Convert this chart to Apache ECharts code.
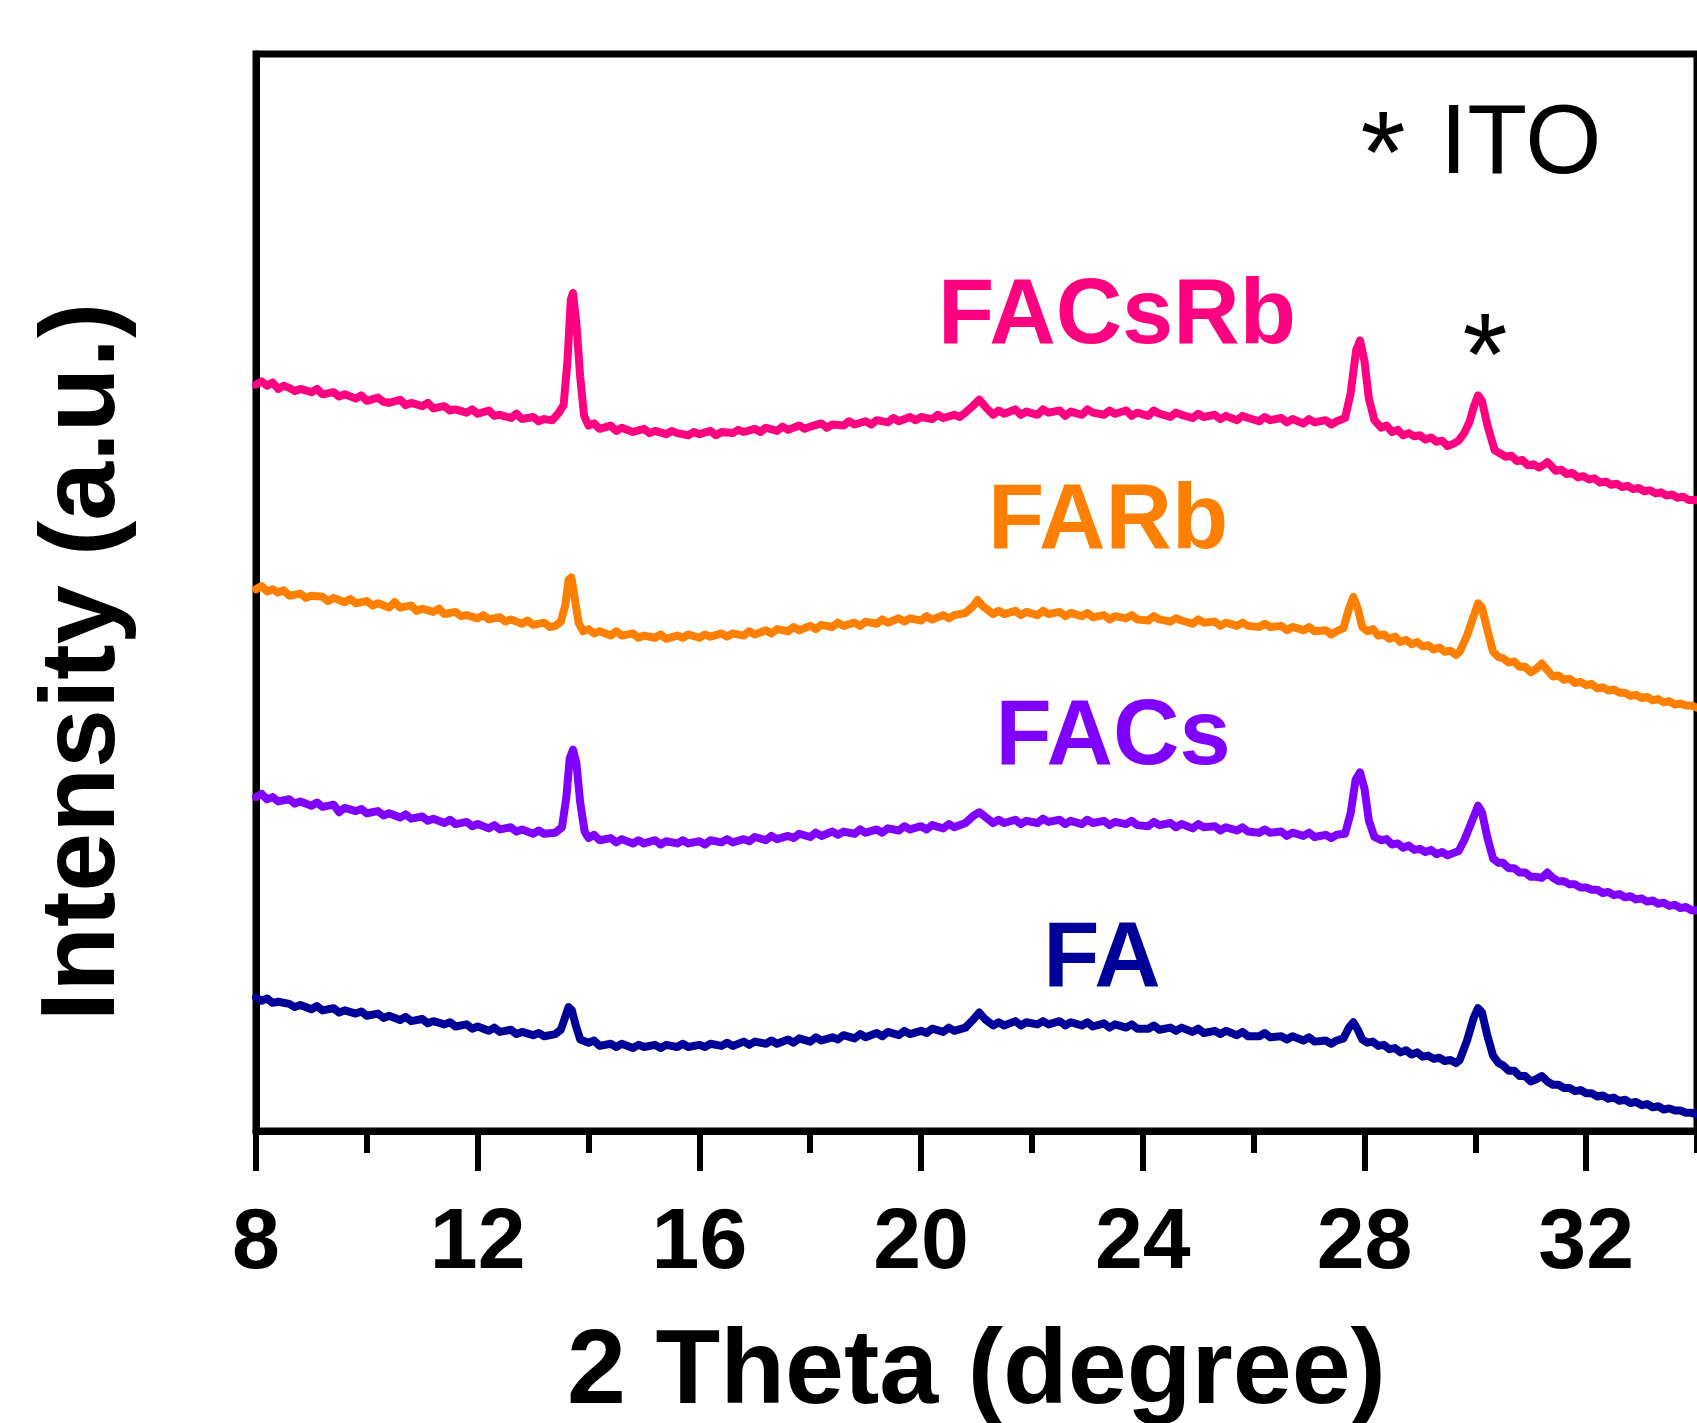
<!DOCTYPE html>
<html>
<head>
<meta charset="utf-8">
<script src="https://cdn.jsdelivr.net/npm/echarts@6/dist/echarts.min.js"></script>
<style>html,body{margin:0;padding:0;background:#fff;}#c{width:1697px;height:1423px;}</style>
</head>
<body>
<div id="c"></div>
<script>
// 2 Theta (degree) vs intensity (a.u., offset traces)
const seriesNames = ['FACsRb', 'FARb', 'FACs', 'FA'];
const seriesColors = ['#FF0080', '#FF8000', '#8000FF', '#000099'];
const xTickLabels = ['8', '12', '16', '20', '24', '28', '32'];

const FACsRb = [
[8.0,69.3],[8.1,69.6],[8.2,69.2],[8.3,69.5],[8.4,68.9],[8.5,69.2],[8.6,69.0],[8.7,68.7],[8.8,68.9],[9.0,68.6],[9.1,68.9],[9.2,68.4],[9.4,68.6],[9.5,68.2],[9.6,68.4],[9.8,68.0],[9.9,68.3],
[10.0,67.8],[10.2,68.1],[10.3,67.7],[10.4,67.6],[10.6,67.9],[10.7,67.4],[10.8,67.6],[11.0,67.3],[11.1,67.6],[11.2,67.1],[11.4,67.3],[11.5,66.9],[11.6,67.0],[11.8,66.7],[11.9,67.0],
[12.0,66.6],[12.2,66.9],[12.3,66.4],[12.4,66.5],[12.6,66.2],[12.7,66.6],[12.8,66.1],[13.0,66.3],[13.1,65.9],[13.2,66.1],[13.35,66.0],[13.45,66.6],[13.55,67.4],[13.62,71.5],[13.68,77.2],[13.72,77.8],[13.78,75.0],[13.85,70.0],[13.92,66.4],
[14.0,65.5],[14.1,65.7],[14.2,65.2],[14.4,65.5],[14.5,65.0],[14.6,65.3],[14.8,64.9],[15.0,65.2],[15.1,64.8],[15.2,65.0],[15.4,64.7],[15.5,65.0],[15.6,64.8],[15.8,64.6],[15.9,64.9],
[16.0,64.7],[16.2,65.0],[16.3,64.6],[16.4,64.9],[16.6,64.8],[16.7,65.1],[16.8,64.9],[17.0,65.2],[17.1,64.9],[17.2,65.3],[17.4,65.0],[17.5,65.4],[17.6,65.1],[17.8,65.5],[17.9,65.2],
[18.0,65.4],[18.2,65.7],[18.3,65.3],[18.4,65.6],[18.6,65.5],[18.7,65.9],[18.8,65.6],[19.0,65.9],[19.1,65.6],[19.2,66.0],[19.4,65.8],[19.5,66.2],[19.6,65.9],[19.8,66.3],[19.9,66.0],
[20.0,66.3],[20.2,66.1],[20.3,66.5],[20.4,66.2],[20.6,66.5],[20.7,66.3],[20.8,66.7],[20.95,67.4],[21.05,67.9],[21.15,67.3],[21.3,66.5],[21.4,66.9],[21.5,66.6],[21.7,67.0],[21.8,66.5],[21.9,66.8],
[22.1,66.5],[22.2,67.0],[22.3,66.7],[22.5,66.9],[22.6,66.4],[22.7,66.8],[22.9,66.5],[23.0,67.0],[23.1,66.7],[23.3,66.5],[23.4,66.9],[23.5,66.6],[23.7,66.9],[23.8,66.4],[23.9,66.7],
[24.1,66.4],[24.2,66.9],[24.3,66.6],[24.5,66.3],[24.6,66.7],[24.7,66.5],[24.9,66.2],[25.0,66.6],[25.1,66.3],[25.3,66.5],[25.4,66.1],[25.5,66.4],[25.7,66.0],[25.8,66.4],[25.9,66.2],
[26.1,65.9],[26.2,66.3],[26.3,66.0],[26.5,66.2],[26.6,65.8],[26.7,66.1],[26.9,65.7],[27.0,66.1],[27.1,65.8],[27.3,66.0],[27.4,65.6],[27.5,65.9],[27.65,66.2],[27.75,68.5],[27.85,72.5],[27.92,73.4],[28.0,71.5],[28.08,68.0],[28.18,66.0],
[28.3,65.3],[28.4,65.5],[28.5,64.9],[28.6,65.1],[28.7,64.6],[28.8,64.8],[28.9,64.5],[29.0,64.6],[29.1,64.2],[29.2,64.4],[29.3,64.0],[29.4,64.1],[29.5,63.6],[29.6,63.8],[29.7,64.1],[29.8,64.8],[29.9,65.9],[29.97,67.2],[30.05,68.3],[30.12,67.8],[30.22,65.5],[30.35,63.2],
[30.45,62.9],[30.55,62.6],[30.65,62.7],[30.75,62.2],[30.85,62.3],[30.95,61.8],[31.05,61.9],[31.15,61.6],[31.25,61.9],[31.3,62.1],[31.38,61.7],[31.45,61.3],[31.55,61.4],[31.65,61.0],[31.75,61.1],[31.85,60.7],[31.95,60.8],
[32.05,60.5],[32.15,60.6],[32.25,60.2],[32.35,60.3],[32.45,60.0],[32.55,60.1],[32.65,59.8],[32.75,59.9],[32.85,59.6],[32.95,59.7],[33.05,59.4],[33.15,59.5],[33.25,59.2],[33.35,59.3],[33.45,59.0],[33.55,59.1],[33.65,58.8],[33.75,58.9],[33.85,58.6],[34.0,58.6]
];

const FARb = [
[8.0,50.3],[8.1,50.6],[8.2,50.1],[8.3,50.3],[8.4,50.0],[8.5,50.2],[8.6,49.7],[8.8,49.9],[8.9,49.5],[9.0,49.7],[9.2,49.6],[9.3,49.2],[9.4,49.5],[9.6,49.1],[9.7,49.4],[9.8,49.0],
[10.0,49.2],[10.1,48.8],[10.2,49.0],[10.4,48.6],[10.5,49.1],[10.6,48.6],[10.8,48.8],[10.9,48.3],[11.0,48.5],[11.2,48.2],[11.3,48.5],[11.4,48.0],[11.6,48.2],[11.7,47.8],[11.8,47.9],
[12.0,47.6],[12.1,47.9],[12.2,47.5],[12.4,47.7],[12.5,47.3],[12.6,47.5],[12.8,47.1],[12.9,47.4],[13.0,47.0],[13.2,47.2],[13.3,46.8],[13.4,46.9],[13.5,47.3],[13.58,48.8],[13.64,51.2],[13.69,51.4],[13.75,49.5],[13.82,47.2],[13.9,46.4],
[14.0,46.6],[14.1,46.2],[14.2,46.4],[14.4,46.0],[14.5,46.4],[14.6,46.0],[14.8,46.2],[14.9,45.8],[15.0,46.0],[15.2,45.8],[15.3,46.1],[15.4,45.7],[15.6,46.0],[15.7,45.8],[15.8,46.1],
[16.0,45.8],[16.1,46.1],[16.2,45.9],[16.4,46.2],[16.5,45.9],[16.6,46.2],[16.8,46.0],[16.9,46.4],[17.0,46.1],[17.2,46.5],[17.3,46.2],[17.4,46.6],[17.6,46.4],[17.7,46.8],[17.8,46.5],
[18.0,46.9],[18.1,46.6],[18.2,47.0],[18.4,46.8],[18.5,47.2],[18.6,46.9],[18.8,47.2],[18.9,46.9],[19.0,47.3],[19.2,47.1],[19.3,47.5],[19.4,47.2],[19.6,47.6],[19.7,47.3],[19.8,47.6],
[20.0,47.4],[20.1,47.8],[20.2,47.5],[20.4,47.9],[20.5,47.6],[20.6,47.9],[20.8,48.1],[20.95,48.8],[21.02,49.3],[21.12,48.7],[21.3,48.0],[21.4,48.3],[21.5,48.0],[21.7,48.3],[21.8,47.9],[21.9,48.2],
[22.1,47.9],[22.2,48.3],[22.3,48.0],[22.5,48.2],[22.6,47.8],[22.7,48.1],[22.9,47.8],[23.0,48.1],[23.1,47.7],[23.3,47.9],[23.4,47.5],[23.5,47.8],[23.7,47.6],[23.8,47.9],[23.9,47.5],
[24.1,47.4],[24.2,47.8],[24.3,47.5],[24.5,47.3],[24.6,47.6],[24.7,47.4],[24.9,47.1],[25.0,47.5],[25.1,47.2],[25.3,47.3],[25.4,46.9],[25.5,47.2],[25.7,46.9],[25.8,47.2],[25.9,46.9],
[26.1,46.8],[26.2,47.1],[26.3,46.8],[26.5,46.9],[26.6,46.5],[26.7,46.8],[26.9,46.5],[27.0,46.8],[27.1,46.4],[27.3,46.5],[27.4,46.1],[27.5,46.4],[27.62,46.7],[27.72,48.5],[27.8,49.6],[27.88,48.5],[27.96,46.8],
[28.05,46.4],[28.15,46.6],[28.25,46.0],[28.35,46.1],[28.45,45.7],[28.55,45.9],[28.65,45.4],[28.75,45.6],[28.85,45.2],[28.95,45.4],[29.05,45.0],[29.15,45.1],[29.25,44.7],[29.35,44.9],[29.45,44.5],[29.55,44.6],[29.65,44.2],[29.72,44.5],
[29.85,46.0],[29.97,47.8],[30.05,49.0],[30.12,48.6],[30.22,46.5],[30.32,44.5],[30.42,44.0],[30.5,43.9],[30.6,43.5],[30.7,43.6],[30.8,43.1],[30.9,43.1],[31.0,42.6],[31.1,42.9],[31.2,43.4],[31.3,42.8],
[31.4,42.2],[31.5,42.3],[31.6,41.9],[31.7,42.0],[31.8,41.6],[31.9,41.7],[32.0,41.4],[32.1,41.5],[32.2,41.1],[32.3,41.2],[32.4,40.9],[32.5,41.0],[32.6,40.7],[32.7,40.7],[32.8,40.4],[32.9,40.5],
[33.0,40.2],[33.1,40.3],[33.2,40.0],[33.3,40.1],[33.4,39.8],[33.5,39.9],[33.6,39.6],[33.7,39.7],[33.8,39.5],[33.9,39.5],[34.0,39.3]
];

const FACs = [
[8.0,31.0],[8.1,31.3],[8.2,30.8],[8.3,31.0],[8.4,30.6],[8.6,30.8],[8.7,30.4],[8.8,30.6],[9.0,30.2],[9.1,30.5],[9.2,30.1],[9.4,30.3],[9.5,29.6],[9.6,30.0],[9.8,29.7],[9.9,29.9],
[10.0,29.5],[10.2,29.7],[10.3,29.3],[10.4,29.5],[10.6,29.1],[10.7,29.4],[10.8,29.0],[11.0,29.2],[11.1,28.8],[11.2,29.0],[11.4,28.6],[11.5,28.9],[11.6,28.5],[11.8,28.7],[11.9,28.3],
[12.0,28.5],[12.2,28.1],[12.3,28.4],[12.4,28.0],[12.6,28.2],[12.7,27.8],[12.8,28.0],[13.0,27.6],[13.1,27.9],[13.2,27.6],[13.4,27.7],[13.52,28.2],[13.6,31.0],[13.66,34.6],[13.72,35.4],[13.78,34.2],[13.85,30.5],[13.93,27.8],
[14.0,27.2],[14.1,27.5],[14.2,27.0],[14.4,27.2],[14.5,26.8],[14.6,27.1],[14.8,26.7],[14.9,27.0],[15.0,26.7],[15.2,27.0],[15.3,26.6],[15.4,26.9],[15.6,26.7],[15.7,27.0],[15.8,26.7],
[16.0,26.9],[16.1,26.6],[16.2,27.0],[16.4,26.8],[16.5,27.1],[16.6,26.8],[16.8,27.1],[16.9,26.9],[17.0,27.3],[17.2,27.0],[17.3,27.4],[17.4,27.1],[17.6,27.4],[17.7,27.2],[17.8,27.6],
[18.0,27.3],[18.1,27.7],[18.2,27.4],[18.4,27.8],[18.5,27.5],[18.6,27.8],[18.8,27.6],[18.9,28.0],[19.0,27.7],[19.2,28.0],[19.3,27.7],[19.4,28.1],[19.6,27.9],[19.7,28.3],[19.8,28.0],
[20.0,28.3],[20.1,28.0],[20.2,28.4],[20.4,28.1],[20.5,28.5],[20.6,28.2],[20.8,28.6],[20.95,29.3],[21.05,29.6],[21.15,29.2],[21.3,28.6],[21.4,28.9],[21.5,28.6],[21.7,28.9],[21.8,28.5],[21.9,28.8],
[22.1,28.6],[22.2,29.0],[22.3,28.7],[22.5,28.9],[22.6,28.5],[22.7,28.8],[22.9,28.5],[23.0,28.9],[23.1,28.6],[23.3,28.8],[23.4,28.4],[23.5,28.7],[23.7,28.5],[23.8,28.8],[23.9,28.4],
[24.1,28.3],[24.2,28.7],[24.3,28.4],[24.5,28.6],[24.6,28.2],[24.7,28.5],[24.9,28.1],[25.0,28.5],[25.1,28.2],[25.3,28.3],[25.4,27.9],[25.5,28.2],[25.7,27.9],[25.8,28.2],[25.9,27.8],
[26.1,27.7],[26.2,28.0],[26.3,27.7],[26.5,27.8],[26.6,27.4],[26.7,27.7],[26.9,27.4],[27.0,27.7],[27.1,27.3],[27.3,27.5],[27.4,27.2],[27.5,27.5],[27.65,27.6],[27.75,29.5],[27.84,32.6],[27.92,33.3],[28.0,31.8],[28.08,28.8],[28.18,27.3],
[28.3,27.0],[28.4,27.1],[28.5,26.6],[28.6,26.7],[28.7,26.3],[28.8,26.5],[28.9,26.1],[29.0,26.2],[29.1,25.9],[29.2,26.1],[29.3,25.7],[29.4,25.9],[29.5,25.6],[29.6,25.8],[29.7,26.0],
[29.8,27.0],[29.95,28.9],[30.05,30.2],[30.12,29.6],[30.22,27.2],[30.32,25.3],[30.42,24.9],[30.5,24.9],[30.6,24.4],[30.7,24.4],[30.8,24.0],[30.9,24.0],[31.0,23.6],[31.1,23.6],[31.2,23.5],[31.3,24.0],
[31.4,23.5],[31.5,23.2],[31.6,23.2],[31.7,22.9],[31.8,22.9],[31.9,22.6],[32.0,22.6],[32.1,22.4],[32.2,22.4],[32.3,22.1],[32.4,22.2],[32.5,21.9],[32.6,22.0],[32.7,21.7],[32.8,21.8],[32.9,21.5],
[33.0,21.6],[33.1,21.3],[33.2,21.4],[33.3,21.1],[33.4,21.2],[33.5,20.9],[33.6,21.0],[33.7,20.7],[33.8,20.8],[33.9,20.5],[34.0,20.5]
];

const FA = [
[8.0,12.4],[8.1,12.1],[8.2,12.3],[8.3,11.9],[8.4,12.0],[8.6,11.8],[8.7,11.5],[8.8,11.7],[9.0,11.3],[9.1,11.6],[9.2,11.2],[9.4,11.4],[9.5,11.0],[9.6,11.2],[9.8,10.9],[9.9,11.1],
[10.0,10.7],[10.2,10.9],[10.3,10.5],[10.4,10.7],[10.6,10.3],[10.7,10.6],[10.8,10.2],[11.0,10.4],[11.1,10.0],[11.2,10.2],[11.4,9.9],[11.5,10.1],[11.6,9.7],[11.8,9.9],[11.9,9.5],
[12.0,9.7],[12.2,9.3],[12.3,9.6],[12.4,9.2],[12.6,9.4],[12.7,9.0],[12.8,9.2],[13.0,8.9],[13.1,9.1],[13.2,8.8],[13.4,9.0],[13.5,9.4],[13.58,10.6],[13.64,11.5],[13.7,11.2],[13.77,9.8],[13.85,8.5],
[14.0,8.2],[14.1,8.4],[14.2,7.9],[14.4,8.1],[14.5,7.8],[14.6,8.1],[14.8,7.7],[14.9,8.0],[15.0,7.8],[15.2,8.0],[15.3,7.7],[15.4,8.0],[15.6,7.8],[15.7,8.1],[15.8,7.8],
[16.0,8.0],[16.1,7.8],[16.2,8.1],[16.4,7.9],[16.5,8.2],[16.6,7.9],[16.8,8.3],[16.9,8.0],[17.0,8.3],[17.2,8.1],[17.3,8.4],[17.4,8.1],[17.6,8.5],[17.7,8.2],[17.8,8.6],
[18.0,8.3],[18.1,8.7],[18.2,8.4],[18.4,8.7],[18.5,8.5],[18.6,8.9],[18.8,8.6],[18.9,9.0],[19.0,8.7],[19.2,9.1],[19.3,8.8],[19.4,9.2],[19.6,8.9],[19.7,9.3],[19.8,9.0],
[20.0,9.3],[20.1,9.1],[20.2,9.5],[20.4,9.2],[20.5,9.6],[20.6,9.3],[20.8,9.6],[20.95,10.4],[21.05,11.0],[21.15,10.4],[21.3,9.8],[21.4,10.1],[21.5,9.8],[21.7,10.2],[21.8,9.8],[21.9,10.1],
[22.1,9.9],[22.2,10.2],[22.3,9.9],[22.5,10.2],[22.6,9.8],[22.7,10.1],[22.9,9.8],[23.0,10.1],[23.1,9.7],[23.3,10.0],[23.4,9.6],[23.5,9.9],[23.7,9.6],[23.8,9.9],[23.9,9.5],
[24.1,9.5],[24.2,9.8],[24.3,9.4],[24.5,9.6],[24.6,9.3],[24.7,9.6],[24.9,9.2],[25.0,9.5],[25.1,9.1],[25.3,9.3],[25.4,9.0],[25.5,9.3],[25.7,8.9],[25.8,9.2],[25.9,8.8],
[26.1,8.8],[26.2,9.1],[26.3,8.7],[26.5,8.8],[26.6,8.5],[26.7,8.8],[26.9,8.4],[27.0,8.7],[27.1,8.3],[27.3,8.4],[27.4,8.1],[27.5,8.4],[27.62,8.6],[27.72,9.6],[27.8,10.1],[27.88,9.4],[27.96,8.5],
[28.05,8.2],[28.15,8.3],[28.25,7.9],[28.35,8.0],[28.45,7.6],[28.55,7.7],[28.65,7.3],[28.75,7.5],[28.85,7.1],[28.95,7.3],[29.05,6.9],[29.15,7.0],[29.25,6.7],[29.35,6.8],[29.45,6.5],[29.55,6.6],[29.65,6.3],[29.72,6.6],
[29.85,8.4],[29.97,10.5],[30.05,11.4],[30.12,11.0],[30.22,8.8],[30.32,7.0],[30.42,6.3],[30.5,6.1],[30.6,5.6],[30.7,5.6],[30.8,5.1],[30.9,5.1],[31.0,4.6],[31.1,4.8],[31.2,5.1],[31.3,4.6],
[31.4,4.3],[31.5,4.3],[31.6,4.0],[31.7,4.0],[31.8,3.7],[31.9,3.8],[32.0,3.5],[32.1,3.5],[32.2,3.2],[32.3,3.3],[32.4,3.0],[32.5,3.1],[32.6,2.8],[32.7,2.9],[32.8,2.6],[32.9,2.7],
[33.0,2.4],[33.1,2.5],[33.2,2.2],[33.3,2.3],[33.4,2.0],[33.5,2.1],[33.6,1.9],[33.7,1.9],[33.8,1.7],[33.9,1.7],[34.0,1.5]
];

const seriesData = [FACsRb, FARb, FACs, FA];

const chart = echarts.init(document.getElementById('c'), null, {renderer: 'canvas'});
const FONT = '"Liberation Sans", Arial, Helvetica, sans-serif';

const option = {
  backgroundColor: '#ffffff',
  animation: false,
  grid: {left: 256, top: 54, width: 1441, bottom: 292, containLabel: false, outerBoundsMode: 'none',
    show: true, borderColor: '#000', borderWidth: 7, backgroundColor: 'transparent'},
  xAxis: [
    {
      type: 'value', min: 8, max: 34, interval: 4, position: 'bottom',
      axisLine: {show: true, lineStyle: {color: '#000', width: 7}},
      axisTick: {show: true, inside: false, length: 40, lineStyle: {color: '#000', width: 6}},
      axisLabel: {show: true, margin: 70, color: '#000', fontFamily: FONT, fontWeight: 'bold', fontSize: 86, showMaxLabel: false,
        formatter: function (v) { const i = xTickLabels.indexOf(String(v)); return i >= 0 ? xTickLabels[i] : ''; }},
      splitLine: {show: false},
      name: '2 Theta (degree)', nameLocation: 'middle', nameGap: 190,
      nameTextStyle: {color: '#000', fontFamily: FONT, fontWeight: 'bold', fontSize: 106}
    },
    {
      type: 'value', min: 8, max: 34, interval: 2, position: 'bottom',
      axisLine: {show: false},
      axisTick: {show: true, inside: false, length: 22, lineStyle: {color: '#000', width: 6}},
      axisLabel: {show: false}, splitLine: {show: false}
    }
  ],
  yAxis: {
    type: 'value', min: 0, max: 100,
    axisLine: {show: true, lineStyle: {color: '#000', width: 7}},
    axisTick: {show: false}, axisLabel: {show: false}, splitLine: {show: false}
  },
  series: seriesNames.map(function (n, i) {
    return {
      name: n, type: 'line', xAxisIndex: 0, data: seriesData[i], showSymbol: false, symbol: 'none',
      lineStyle: {color: seriesColors[i], width: 8, join: 'round', cap: 'round'}, itemStyle: {color: seriesColors[i]}, z: 3
    };
  }),
  graphic: [
    {type: 'text', x: 85, y: 662, rotation: Math.PI / 2, style: {text: 'Intensity (a.u.)', fill: '#000', font: 'bold 106px ' + FONT, align: 'center', verticalAlign: 'middle'}},
    {type: 'text', x: 1117, y: 318, style: {text: seriesNames[0], fill: seriesColors[0], font: 'bold 92px ' + FONT, align: 'center', verticalAlign: 'middle'}},
    {type: 'text', x: 1108, y: 523, style: {text: seriesNames[1], fill: seriesColors[1], font: 'bold 92px ' + FONT, align: 'center', verticalAlign: 'middle'}},
    {type: 'text', x: 1113, y: 739, style: {text: seriesNames[2], fill: seriesColors[2], font: 'bold 92px ' + FONT, align: 'center', verticalAlign: 'middle'}},
    {type: 'text', x: 1102, y: 961, style: {text: seriesNames[3], fill: seriesColors[3], font: 'bold 92px ' + FONT, align: 'center', verticalAlign: 'middle'}},
    {type: 'text', x: 1383, y: 161, style: {text: '*', fill: '#000', font: '116px ' + FONT, align: 'center', verticalAlign: 'middle'}},
    {type: 'text', x: 1440, y: 146, style: {text: 'ITO', fill: '#000', font: '98px ' + FONT, align: 'left', verticalAlign: 'middle'}},
    {type: 'text', x: 1485, y: 363, style: {text: '*', fill: '#000', font: '116px ' + FONT, align: 'center', verticalAlign: 'middle'}}
  ]
};
chart.setOption(option);
</script>
</body>
</html>
